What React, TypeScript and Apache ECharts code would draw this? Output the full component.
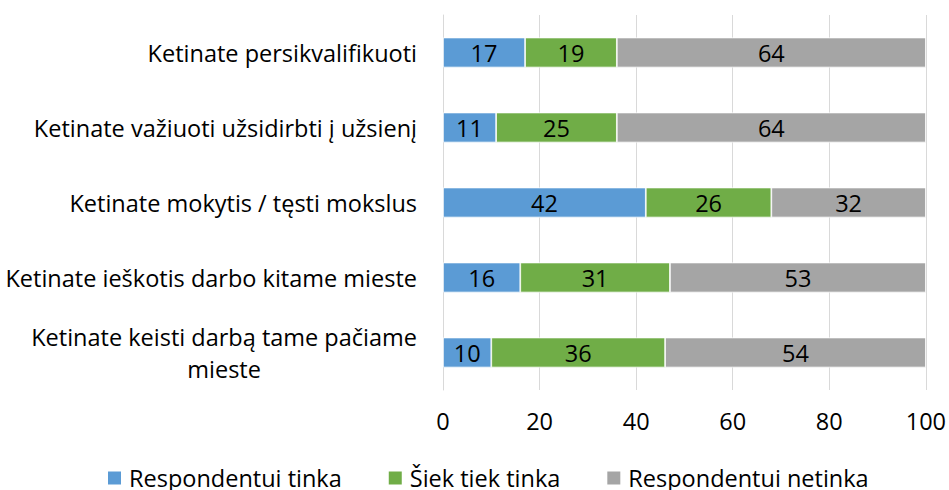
import React, { useEffect, useRef } from "react";
import * as echarts from "echarts";

const categories = [
  "Ketinate persikvalifikuoti",
  "Ketinate važiuoti užsidirbti į užsienį",
  "Ketinate mokytis / tęsti mokslus",
  "Ketinate ieškotis darbo kitame mieste",
  "Ketinate keisti darbą tame pačiame mieste",
];
const seriesNames = ["Respondentui tinka", "Šiek tiek tinka", "Respondentui netinka"];
const tinka = [17, 11, 42, 16, 10];
const siekTiek = [19, 25, 26, 31, 36];
const netinka = [64, 64, 32, 53, 54];
const xTicks = { min: 0, max: 100, interval: 20 };
const colors = ["#5B9BD5", "#70AD47", "#A5A5A5"];

const FONT = "Open Sans";
const FS = 23.5;

function wrap(label: string, maxChars: number): string[] {
  const words = label.split(" ");
  const lines: string[] = [];
  let cur = "";
  for (const w of words) {
    const next = cur ? cur + " " + w : w;
    if (next.length > maxChars && cur) {
      lines.push(cur);
      cur = w;
    } else cur = next;
  }
  if (cur) lines.push(cur);
  return lines;
}

export default function App() {
  const ref = useRef<HTMLDivElement>(null);
  useEffect(() => {
    document.body.style.margin = "0";
    if (!ref.current) return;
    const chart = echarts.init(ref.current, undefined, { renderer: "svg" });
    const data = [tinka, siekTiek, netinka];
    chart.setOption({
      animation: false,
      color: colors,
      grid: { left: 443, right: 22, top: 15, bottom: 100, containLabel: false },
      legend: {
        left: 106,
        top: 466,
        padding: 0,
        icon: "rect",
        itemWidth: 15,
        itemHeight: 15,
        itemGap: 45,
        textStyle: { fontFamily: FONT, fontSize: FS, color: "#000", padding: [0, 0, 0, 2] },
        data: seriesNames,
      },
      xAxis: {
        type: "value",
        min: xTicks.min,
        max: xTicks.max,
        interval: xTicks.interval,
        axisLine: { show: false },
        axisTick: { show: false },
        splitLine: { lineStyle: { color: "#D9D9D9", width: 1 } },
        axisLabel: { fontFamily: FONT, fontSize: FS, color: "#000", margin: 19 },
      },
      yAxis: {
        type: "category",
        inverse: true,
        data: categories,
        axisLine: { show: true, lineStyle: { color: "#D9D9D9", width: 1 } },
        axisTick: { show: false },
        axisLabel: {
          margin: 26,
          formatter: (v: string) =>
            wrap(v, 38)
              .map((l) => `{c|${l}}`)
              .join("\n"),
          rich: {
            c: { align: "center", fontFamily: FONT, fontSize: FS, color: "#000", lineHeight: 32 },
          },
        },
      },
      series: seriesNames.map((name, i) => ({
        name,
        type: "bar",
        stack: "total",
        barWidth: 30,
        data: data[i],
        itemStyle: { borderColor: "#fff", borderWidth: 0.75 },
        label: {
          show: true,
          position: "inside",
          fontFamily: FONT,
          fontSize: FS,
          color: "#000",
        },
      })),
    });
    return () => chart.dispose();
  }, []);
  return <div ref={ref} style={{ width: 949, height: 490 }} />;
}
